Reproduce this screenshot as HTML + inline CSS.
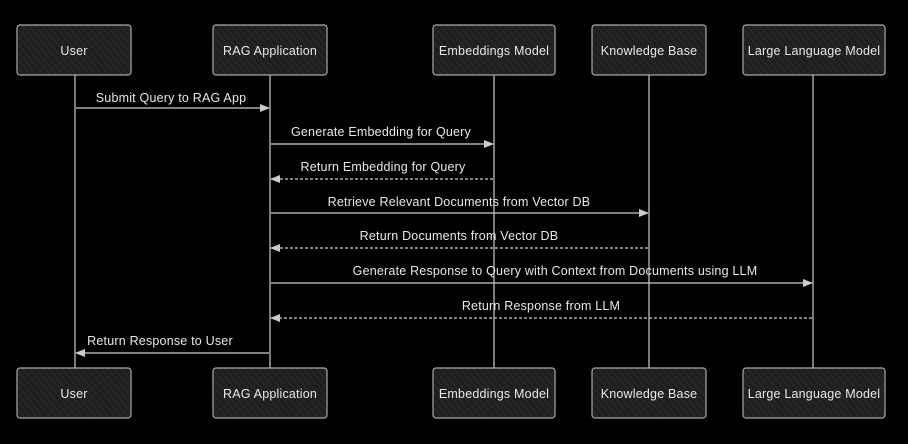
<!DOCTYPE html>
<html><head><style>
body{margin:0;background:#000;width:908px;height:439px;overflow:hidden}
text{font-family:"Comic Sans MS","Liberation Sans",sans-serif;fill:#e8e8e8;font-size:12.5px;letter-spacing:0.2px}
</style></head><body>
<svg width="908" height="439" xmlns="http://www.w3.org/2000/svg">
<defs>
<pattern id="h" width="5" height="5" patternUnits="userSpaceOnUse" patternTransform="rotate(-40)">
<rect width="5" height="5" fill="#1f1f1f"/><line x1="0" y1="0" x2="0" y2="5" stroke="#2e2e2e" stroke-width="1.5"/></pattern>
<marker id="a" markerWidth="10" markerHeight="8" refX="9" refY="4" orient="auto" markerUnits="userSpaceOnUse"><path d="M0,0 L10,4 L0,8z" fill="#ccc"/></marker>
</defs>
<g stroke="#bbb" stroke-width="1.3">
<line x1="75" y1="75" x2="75" y2="368"/><line x1="270" y1="75" x2="270" y2="368"/>
<line x1="494" y1="75" x2="494" y2="368"/><line x1="649" y1="75" x2="649" y2="368"/>
<line x1="813" y1="75" x2="813" y2="368"/>
</g>
<g stroke="#aaa" stroke-width="1.2" fill="url(#h)">
<rect x="17" y="25" width="114" height="50" rx="3"/><rect x="213" y="25" width="114" height="50" rx="3"/>
<rect x="433" y="25" width="122" height="50" rx="3"/><rect x="592" y="25" width="114" height="50" rx="3"/>
<rect x="743" y="25" width="142" height="50" rx="3"/>
<rect x="17" y="368" width="114" height="50" rx="3"/><rect x="213" y="368" width="114" height="50" rx="3"/>
<rect x="433" y="368" width="122" height="50" rx="3"/><rect x="592" y="368" width="114" height="50" rx="3"/>
<rect x="743" y="368" width="142" height="50" rx="3"/>
</g>
<g text-anchor="middle">
<text x="74" y="55">User</text><text x="270" y="55">RAG Application</text><text x="494" y="55">Embeddings Model</text><text x="649" y="55">Knowledge Base</text><text x="814" y="55">Large Language Model</text>
<text x="74" y="398">User</text><text x="270" y="398">RAG Application</text><text x="494" y="398">Embeddings Model</text><text x="649" y="398">Knowledge Base</text><text x="814" y="398">Large Language Model</text>
<text x="171" y="102">Submit Query to RAG App</text>
<text x="381" y="136">Generate Embedding for Query</text>
<text x="383" y="171">Return Embedding for Query</text>
<text x="459" y="206">Retrieve Relevant Documents from Vector DB</text>
<text x="459" y="240">Return Documents from Vector DB</text>
<text x="555" y="275">Generate Response to Query with Context from Documents using LLM</text>
<text x="541" y="310">Return Response from LLM</text>
<text x="160" y="345">Return Response to User</text>
</g>
<g stroke="#ccc" stroke-width="1.2" fill="none">
<line x1="76" y1="108" x2="269" y2="108" marker-end="url(#a)"/>
<line x1="271" y1="144" x2="493" y2="144" marker-end="url(#a)"/>
<line x1="493" y1="179" x2="271" y2="179" stroke-dasharray="3,2" marker-end="url(#a)"/>
<line x1="271" y1="213" x2="648" y2="213" marker-end="url(#a)"/>
<line x1="648" y1="248" x2="271" y2="248" stroke-dasharray="3,2" marker-end="url(#a)"/>
<line x1="271" y1="283" x2="812" y2="283" marker-end="url(#a)"/>
<line x1="812" y1="318" x2="271" y2="318" stroke-dasharray="3,2" marker-end="url(#a)"/>
<line x1="269" y1="353" x2="76" y2="353" marker-end="url(#a)"/>
</g>
</svg>
</body></html>
